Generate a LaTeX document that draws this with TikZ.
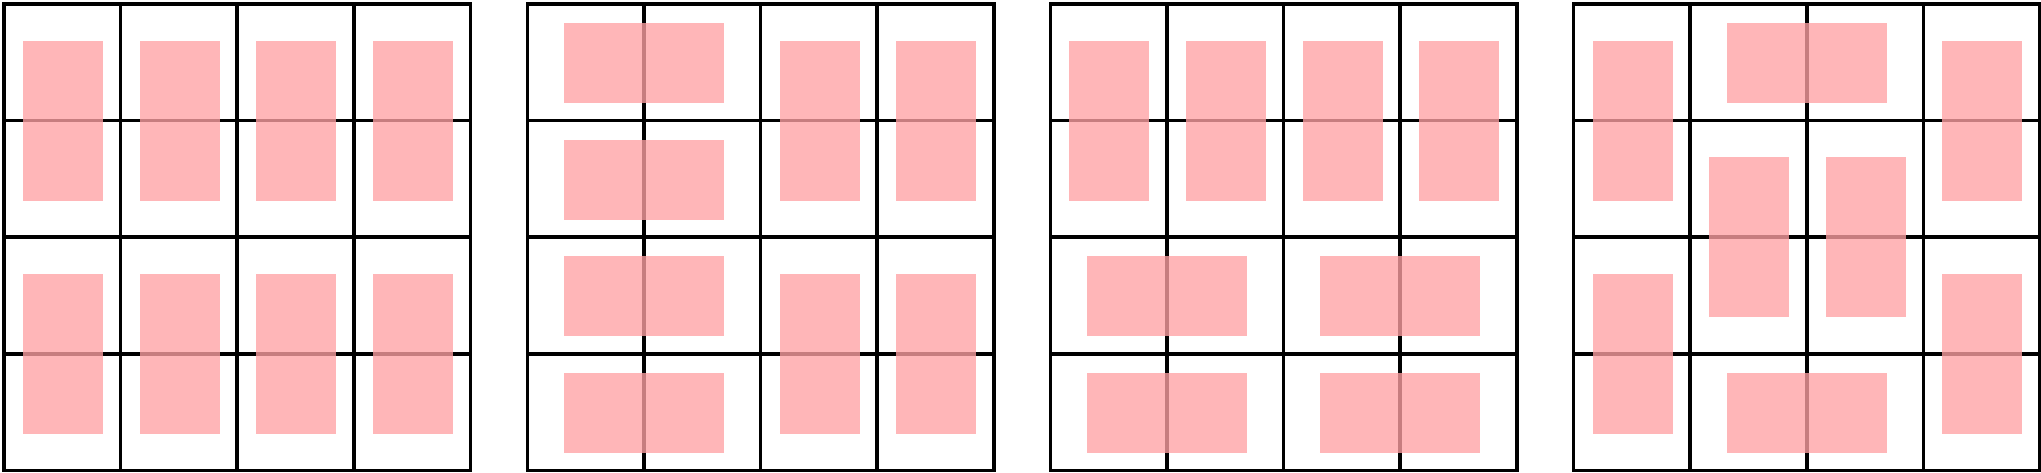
\documentclass[tikz,border=0pt]{standalone}
\definecolor{pk}{RGB}{255,161,164}
\tikzset{
  gridline/.style={draw=black, line width=1.8pt, line cap=rect},
  pinkbox/.style={fill=pk, fill opacity=0.78}
}
\newcommand\mytall[3]{\fill[pinkbox] ({#1+#2*116.6+19},{4+#3*116.6-80}) rectangle ++(80,160);}
\newcommand\mywide[3]{\fill[pinkbox] ({#1+#2*116.6-80},{4+#3*116.6+19}) rectangle ++(160,80);}
\begin{document}
\begin{tikzpicture}[x=0.5pt, y=-0.5pt]
\useasboundingbox (0,0) rectangle (2041,472);
% grids
\foreach \gx in {4,527.3,1050.3,1573.5}{
  \foreach \k in {0,...,4}{
    \draw[gridline] ({\gx+\k*116.6},4) -- ({\gx+\k*116.6},470.4);
    \draw[gridline] (\gx,{4+\k*116.6}) -- ({\gx+466.4},{4+\k*116.6});
  }
}
% grid 1
\foreach \i in {0,...,3}{ \mytall{4}{\i}{1} \mytall{4}{\i}{3} }
% grid 2
\foreach \j in {0,...,3}{ \mywide{527.3}{1}{\j} }
\mytall{527.3}{2}{1} \mytall{527.3}{3}{1}
\mytall{527.3}{2}{3} \mytall{527.3}{3}{3}
% grid 3
\foreach \i in {0,...,3}{ \mytall{1050.3}{\i}{1} }
\mywide{1050.3}{1}{2} \mywide{1050.3}{3}{2}
\mywide{1050.3}{1}{3} \mywide{1050.3}{3}{3}
% grid 4
\mytall{1573.5}{0}{1} \mytall{1573.5}{0}{3}
\mytall{1573.5}{3}{1} \mytall{1573.5}{3}{3}
\mywide{1573.5}{2}{0}
\mytall{1573.5}{1}{2} \mytall{1573.5}{2}{2}
\mywide{1573.5}{2}{3}
\end{tikzpicture}
\end{document}
